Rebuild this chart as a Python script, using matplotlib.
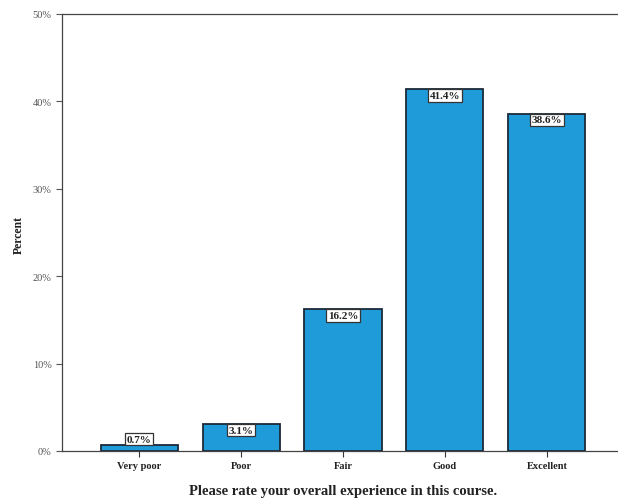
import matplotlib
matplotlib.use("Agg")
import matplotlib.pyplot as plt
from matplotlib.ticker import FuncFormatter

categories = ["Very poor", "Poor", "Fair", "Good", "Excellent"]
percents = [0.7, 3.1, 16.2, 41.4, 38.6]
y_ticks = [0, 10, 20, 30, 40, 50]

plt.rcParams["font.family"] = ["Liberation Serif", "DejaVu Serif"]

fig = plt.figure(figsize=(6.18, 5.02), dpi=100)
ax = fig.add_axes([62 / 618, 1 - 452 / 502, 562 / 618, 437 / 502])

x = list(range(len(categories)))
bars = ax.bar(x, percents, width=0.755, color="#1f9bd9",
              edgecolor="#1b2a38", linewidth=1.3, zorder=2)

for xi, v in zip(x, percents):
    label = f"{v:.1f}%"
    box = dict(boxstyle="square,pad=0.15", fc="white", ec="#333333", lw=0.9)
    if v < 2:
        ax.text(xi, v + 0.15, label, ha="center", va="bottom", fontsize=8,
                fontweight="bold", color="#222222", bbox=box, zorder=3)
    else:
        ax.text(xi, v - 0.2, label, ha="center", va="top", fontsize=8,
                fontweight="bold", color="#222222", bbox=box, zorder=3)

ax.set_xlim(-0.755, 4.755)
ax.set_ylim(0, 50)
ax.set_yticks(y_ticks)
ax.yaxis.set_major_formatter(FuncFormatter(lambda v, p: f"{v:.0f}%"))
ax.set_xticks(x)
ax.set_xticklabels(categories, fontsize=7.5, fontweight="bold", color="#222222")
ax.tick_params(axis="y", labelsize=7.5, colors="#555555", length=4, width=0.8)
ax.tick_params(axis="x", length=4, width=0.8, colors="#333333", pad=3)
for lab in ax.get_xticklabels():
    lab.set_color("#222222")

for side in ["left", "bottom", "top"]:
    ax.spines[side].set_color("#444444")
    ax.spines[side].set_linewidth(0.9)
ax.spines["right"].set_visible(False)

ax.set_ylabel("Percent", fontsize=8.5, fontweight="bold", color="#222222")
ax.yaxis.set_label_coords(-0.066, 0.497)
ax.set_xlabel("Please rate your overall experience in this course.",
              fontsize=10.5, fontweight="bold", color="#222222", labelpad=10)

fig.savefig("out.png", dpi=100)
